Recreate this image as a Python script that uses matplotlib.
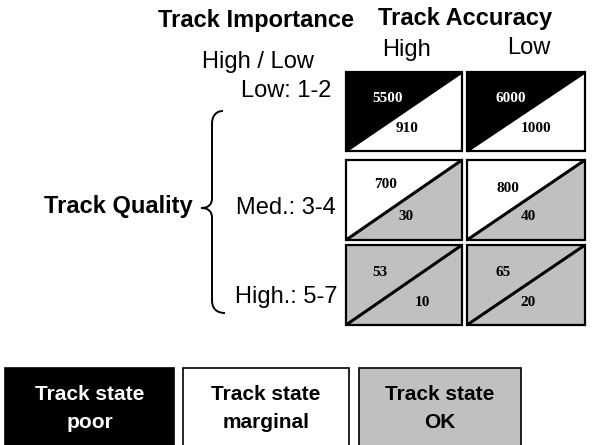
import matplotlib.pyplot as plt
from matplotlib.patches import Polygon, Rectangle, PathPatch
from matplotlib.path import Path

# data
quality_labels = ['Low: 1-2', 'Med.: 3-4', 'High.: 5-7']
accuracy_labels = ['High', 'Low']
importance_high = [[5500, 6000], [700, 800], [53, 65]]
importance_low = [[910, 1000], [30, 40], [10, 20]]
# state of upper-left / lower-right triangle of each row
upper_state = ['poor', 'marginal', 'ok']
lower_state = ['marginal', 'ok', 'ok']
state_names = ['poor', 'marginal', 'ok']
state_labels = ['Track state\npoor', 'Track state\nmarginal', 'Track state\nOK']

# styles / layout (pixel coords, y down)
state_color = {'poor': 'black', 'marginal': 'white', 'ok': '#c0c0c0'}
state_text = {'poor': 'white', 'marginal': 'black', 'ok': 'black'}
col_x = [(346, 462), (467, 585)]
row_y = [(72, 151), (160, 240), (245, 325)]
hi_pos = [[(0.36, 0.33), (0.37, 0.33)], [(0.34, 0.31), (0.35, 0.35)], [(0.29, 0.34), (0.31, 0.35)]]
lo_pos = [[(0.53, 0.71), (0.585, 0.71)], [(0.52, 0.71), (0.52, 0.71)], [(0.66, 0.72), (0.52, 0.72)]]
box_x = [(5, 174), (183, 349), (359, 521)]
box_y = (368, 446)

sans = 'Liberation Sans'
serif = 'Liberation Serif'

fig = plt.figure(figsize=(6.05, 4.45), dpi=100)
ax = fig.add_axes([0, 0, 1, 1])
ax.set_xlim(0, 605)
ax.set_ylim(445, 0)
ax.axis('off')

# headers
ax.text(256, 21, 'Track Importance', ha='center', va='center', fontsize=17, fontweight='bold', family=sans)
ax.text(465, 19, 'Track Accuracy', ha='center', va='center', fontsize=17, fontweight='bold', family=sans)
ax.text(258, 62, 'High / Low', ha='center', va='center', fontsize=17, family=sans)
acc_y = [50, 48]
for j, lab in enumerate(accuracy_labels):
    cx = (col_x[j][0] + col_x[j][1]) / 2 + 3
    ax.text(cx, acc_y[j], lab, ha='center', va='center', fontsize=17, family=sans)

# row labels
row_text_y = [91, 208, 297]
for i, lab in enumerate(quality_labels):
    ax.text(286, row_text_y[i], lab, ha='center', va='center', fontsize=17, family=sans)
ax.text(118, 207, 'Track Quality', ha='center', va='center', fontsize=17, fontweight='bold', family=sans)

# brace
verts = [(223, 111), (216, 111), (212, 116), (212, 124),
         (212, 198),
         (212, 204), (209, 208), (201, 208),
         (209, 208), (212, 212), (212, 218),
         (212, 300),
         (212, 308), (216, 313), (225, 313)]
codes = [Path.MOVETO, Path.CURVE4, Path.CURVE4, Path.CURVE4,
         Path.LINETO,
         Path.CURVE4, Path.CURVE4, Path.CURVE4,
         Path.CURVE4, Path.CURVE4, Path.CURVE4,
         Path.LINETO,
         Path.CURVE4, Path.CURVE4, Path.CURVE4]
ax.add_patch(PathPatch(Path(verts, codes), facecolor='none', edgecolor='black', lw=1.4))

# cells
for i in range(len(quality_labels)):
    y0, y1 = row_y[i]
    for j in range(len(accuracy_labels)):
        x0, x1 = col_x[j]
        w, h = x1 - x0, y1 - y0
        ax.add_patch(Polygon([(x0, y1), (x0, y0), (x1, y0)], closed=True,
                             facecolor=state_color[upper_state[i]], edgecolor='none'))
        ax.add_patch(Polygon([(x0, y1), (x1, y1), (x1, y0)], closed=True,
                             facecolor=state_color[lower_state[i]], edgecolor='none'))
        ax.plot([x0, x1], [y1, y0], color='black', lw=2.2, solid_capstyle='butt')
        ax.add_patch(Rectangle((x0, y0), w, h, facecolor='none', edgecolor='black', lw=1.6))
        hx, hy = hi_pos[i][j]
        lx, ly = lo_pos[i][j]
        ax.text(x0 + hx * w, y0 + hy * h, str(importance_high[i][j]), ha='center', va='center',
                fontsize=11, fontweight='bold', family=serif, color=state_text[upper_state[i]])
        ax.text(x0 + lx * w, y0 + ly * h, str(importance_low[i][j]), ha='center', va='center',
                fontsize=11, fontweight='bold', family=serif, color=state_text[lower_state[i]])

# legend boxes
for k, name in enumerate(state_names):
    x0, x1 = box_x[k]
    ax.add_patch(Rectangle((x0, box_y[0]), x1 - x0, box_y[1] - box_y[0],
                           facecolor=state_color[name], edgecolor='black', lw=1.2))
    cx = (x0 + x1) / 2
    line1, line2 = state_labels[k].split('\n')
    ax.text(cx, 395, line1, ha='center', va='center', fontsize=15, fontweight='bold',
            family=sans, color=state_text[name])
    ax.text(cx, 423, line2, ha='center', va='center', fontsize=15, fontweight='bold',
            family=sans, color=state_text[name])

fig.savefig('out.png', dpi=100)
